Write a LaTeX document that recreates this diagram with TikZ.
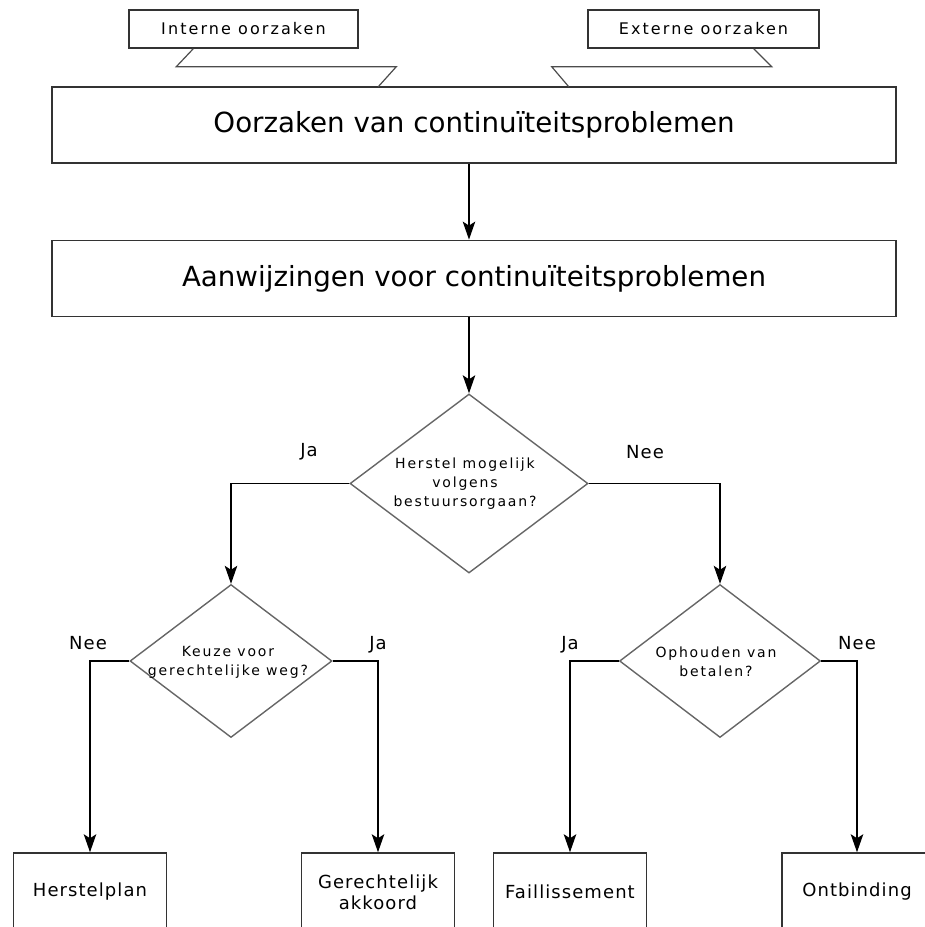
\documentclass[tikz,border=0pt]{standalone}
\usepackage{fontspec}
\setmainfont{DejaVu Sans}
\newfontfamily\wideA[LetterSpace=13]{DejaVu Sans}
\newfontfamily\wideB[LetterSpace=6]{DejaVu Sans}
\usetikzlibrary{arrows.meta,shapes.geometric}
\begin{document}
\begin{tikzpicture}[x=1pt,y=-1pt,
  bigbox/.style={draw=black!80, line width=1.8pt, minimum width=844pt, minimum height=76pt, inner sep=0pt, font=\fontsize{27.7}{32}\selectfont},
  callout/.style={draw=black!80, line width=1.5pt, minimum height=38pt, inner sep=0pt, font=\wideA\fontsize{16}{19}\selectfont},
  tail/.style={draw=black!70, line width=1.2pt},
  dec/.style={shape=diamond, draw=black!60, line width=1.4pt, inner sep=0pt},
  dectext/.style={align=center, inner sep=0pt, font=\wideA\fontsize{14}{19}\selectfont},
  endbox/.style={draw=black!80, line width=1.5pt, minimum width=153pt, minimum height=78pt, inner sep=0pt, align=center, font=\wideB\fontsize{18}{21}\selectfont},
  lab/.style={inner sep=0pt, font=\wideB\fontsize{18}{21}\selectfont},
  arr/.style={draw=black, line width=1.3pt, -{Stealth[length=18pt,width=12.5pt,inset=4pt]}}
]
\useasboundingbox (0,0) rectangle (925,927);
% callouts
\node[callout, minimum width=229pt] (ic) at (243.5,29) {Interne oorzaken};
\node[callout, minimum width=231pt] (ec) at (703.5,29) {Externe oorzaken};
% main boxes
\node[bigbox] (c1) at (474,125) {Oorzaken van continuïteitsproblemen};
\node[bigbox] (c2) at (474,278.5) {Aanwijzingen voor continuïteitsproblemen};
% callout tails
\draw[tail] ([xshift=65pt]ic.south west) -- ++(-17,18) -- ++(220,0) -- ++(-18,20);
\draw[tail] ([xshift=-66pt]ec.south east) -- ++(18,18) -- ++(-220,0) -- ++(17,20);
% decisions
\node[dec, minimum width=238pt, minimum height=179pt] (d1) at (469,483.5) {};
\node[dectext] (t1) at (465,484) {Herstel mogelijk\\volgens\\bestuursorgaan?};
\node[dec, minimum width=202pt, minimum height=153pt] (d2) at (231,661) {};
\node[dectext] (t2) at (228,662) {Keuze voor\\gerechtelijke weg?};
\node[dec, minimum width=201pt, minimum height=153pt] (d3) at (720,661) {};
\node[dectext] (t3) at (716,662) {Ophouden van\\betalen?};
% end boxes
\node[endbox] (b1) at (90,892) {Herstelplan};
\node[endbox] (b2) at (378,892) {Gerechtelijk\\akkoord};
\node[endbox] (b3) at (570,892) {Faillissement};
\node[endbox, minimum width=150pt] (b4) at (857,892) {Ontbinding};
% connectors
\draw[arr] (c1.south -| d1.north) -- (c2.north -| d1.north);
\draw[arr] (c2.south -| d1.north) -- (d1.north);
\draw[arr] (d1.west) -| (d2.north);
\draw[arr] (d1.east) -| (d3.north);
\draw[arr] (d2.west) -| (b1.north);
\draw[arr] (d2.east) -| (b2.north);
\draw[arr] (d3.west) -| (b3.north);
\draw[arr] (d3.east) -| (b4.north);
% labels
\node[lab] (l1) at (309,452) {Ja};
\node[lab] (l2) at (645,452) {Nee};
\node[lab] (l3) at (88,643) {Nee};
\node[lab] (l4) at (378,645) {Ja};
\node[lab] (l5) at (570,645) {Ja};
\node[lab] (l6) at (857,643) {Nee};
\end{tikzpicture}
\end{document}
